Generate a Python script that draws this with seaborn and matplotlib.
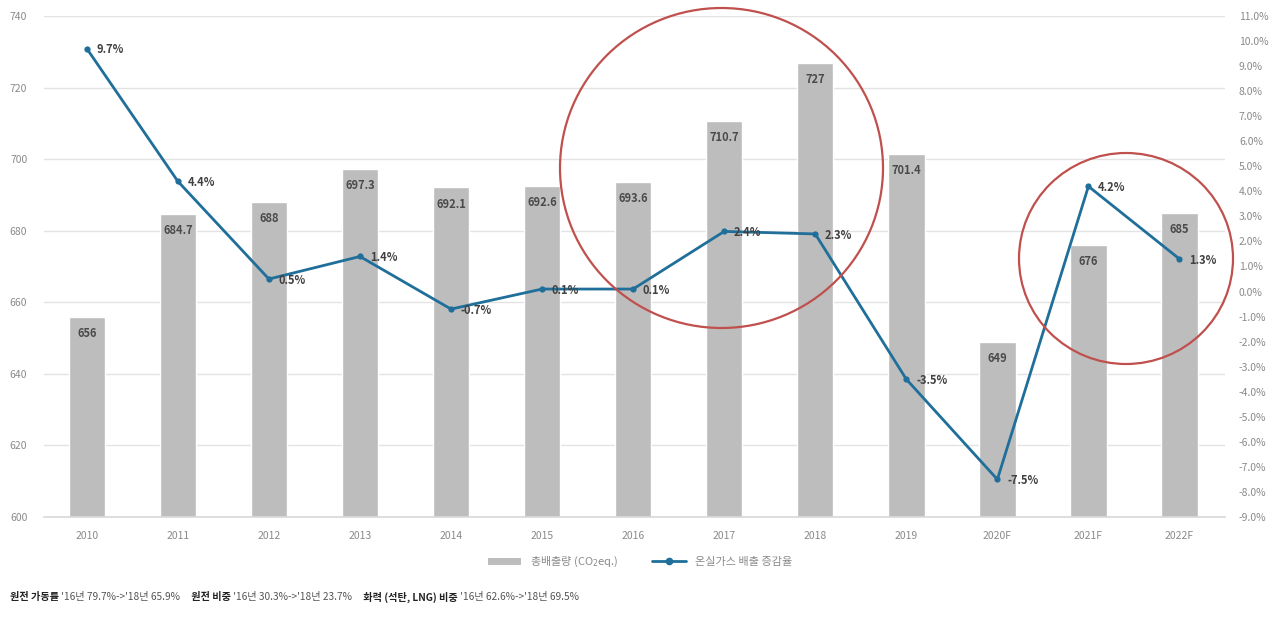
import matplotlib
matplotlib.use("Agg")
import matplotlib.pyplot as plt
from matplotlib.patches import Ellipse, Patch
from matplotlib.lines import Line2D
import seaborn as sns
import pandas as pd
import numpy as np

years = ["2010", "2011", "2012", "2013", "2014", "2015", "2016", "2017", "2018",
         "2019", "2020F", "2021F", "2022F"]
emissions = [656, 684.7, 688, 697.3, 692.1, 692.6, 693.6, 710.7, 727, 701.4, 649, 676, 685]
emission_labels = ["656", "684.7", "688", "697.3", "692.1", "692.6", "693.6", "710.7",
                   "727", "701.4", "649", "676", "685"]
change_pct = [9.7, 4.4, 0.5, 1.4, -0.7, 0.1, 0.1, 2.4, 2.3, -3.5, -7.5, 4.2, 1.3]

bar_name = "총배출량 (CO$_2$eq.)"
line_name = "온실가스 배출 증감율"
notes = [("원전 가동률", True), (" '16년 79.7%->'18년 65.9%", False), ("     원전 비중", True),
         (" '16년 30.3%->'18년 23.7%", False), ("     화력 (석탄, LNG) 비중", True),
         (" '16년 62.6%->'18년 69.5%", False)]

sns.set_theme(style="white")
plt.rcParams['font.family'] = ['Noto Sans CJK KR', 'DejaVu Sans']

bar_color = "#bdbdbd"
line_color = "#1f6f9a"
tick_color = "#8a8a8a"

df = pd.DataFrame({"year": years, "emissions": emissions, "change": change_pct,
                   "pos": np.arange(len(years))})

fig = plt.figure(figsize=(12.8, 6.19), dpi=100)
ax = fig.add_axes([44/1280, 1-517/619, (1225-44)/1280, (517-16)/619])

sns.barplot(data=df, x="year", y="emissions", color=bar_color, width=0.4,
            saturation=1, ax=ax, zorder=2)
ax.set_ylim(600, 740)
ax.set_xlim(-0.47, len(years) - 0.5)
ax.set_yticks(np.arange(600, 741, 20))
ax.yaxis.grid(True, color="#e3e3e3", linewidth=1, zorder=0)
ax.set_axisbelow(True)
for s in ["top", "right", "left"]:
    ax.spines[s].set_visible(False)
ax.spines["bottom"].set_color("#d9d9d9")
ax.tick_params(axis="y", colors=tick_color, labelsize=7.5, length=0, pad=12)
ax.tick_params(axis="x", colors=tick_color, labelsize=7.5, length=0, pad=10)
ax.set_xlabel("")
ax.set_ylabel("")

for i, (v, lab) in enumerate(zip(emissions, emission_labels)):
    ax.annotate(lab, (i, v), xytext=(0, -12), textcoords="offset points",
                ha="center", va="center", fontsize=8, fontweight="bold", color="#4a4a4a",
                zorder=5)

ax2 = ax.twinx()
sns.lineplot(data=df, x="pos", y="change", color=line_color, linewidth=2.0,
             marker="o", markersize=4.5, markeredgewidth=0, ax=ax2, zorder=4)
ax2.set_ylim(-9, 11)
ax2.set_yticks(np.arange(-9, 12, 1))
ax2.set_yticklabels([f"{t:.1f}%" for t in np.arange(-9, 12, 1)])
ax2.tick_params(axis="y", colors=tick_color, labelsize=7.5, length=0, pad=10)
for s in ["top", "right", "left", "bottom"]:
    ax2.spines[s].set_visible(False)
ax2.set_xlabel("")
ax2.set_ylabel("")
ax2.set_xlim(-0.47, len(years) - 0.5)

for i, v in enumerate(change_pct):
    ax2.annotate(f"{v}%", (i, v), xytext=(7, -1), textcoords="offset points",
                 ha="left", va="center", fontsize=8, fontweight="bold", color="#404040",
                 zorder=6)

# red highlight circles
red = "#c0504d"
fig.patches.append(Ellipse((721.5/1280, 1-168/619), 323/1280, 320/619,
                           transform=fig.transFigure, fill=False, edgecolor=red,
                           linewidth=1.6, zorder=10))
fig.patches.append(Ellipse((1126/1280, 1-258.5/619), 214/1280, 211/619,
                           transform=fig.transFigure, fill=False, edgecolor=red,
                           linewidth=1.6, zorder=10))

handles = [Patch(facecolor=bar_color, edgecolor="none"),
           Line2D([0], [0], color=line_color, linewidth=2.0, marker="o", markersize=4.5)]
fig.legend(handles, [bar_name, line_name], loc="center", bbox_to_anchor=(0.5, 1-562/619),
           ncol=2, frameon=False, fontsize=8, labelcolor="#8a8a8a",
           handlelength=3, handleheight=0.6, columnspacing=3)

fig.canvas.draw()
renderer = fig.canvas.get_renderer()
x = 10 / 1280
for txt, bold in notes:
    t = fig.text(x, 1-597/619, txt, fontsize=7.3, fontweight="bold" if bold else "normal",
                 color="#222222" if bold else "#555555", ha="left", va="center")
    bb = t.get_window_extent(renderer)
    x += bb.width / 1280

fig.savefig("out.png", dpi=100)
